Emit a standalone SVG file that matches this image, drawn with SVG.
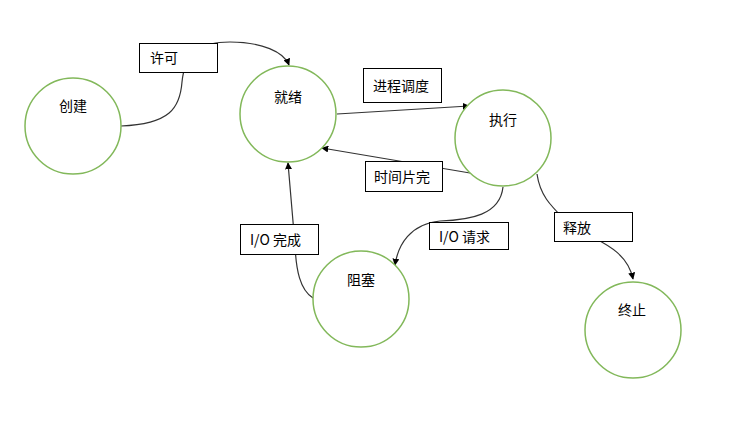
<svg xmlns="http://www.w3.org/2000/svg" width="735" height="424" viewBox="0 0 735 424">
<defs>
<marker id="arr" viewBox="0 0 10 10" refX="9" refY="5" markerWidth="7" markerHeight="7" orient="auto" markerUnits="userSpaceOnUse">
<path d="M0,0 L10,5 L0,10 z" fill="#000"/>
</marker>
<style>
.state{fill:#fff;stroke:#82b85a;stroke-width:1.5}
.lbl{fill:#fff;stroke:#000;stroke-width:1}
.edge{fill:none;stroke:#333;stroke-width:1.2}
text{font-family:"Noto Sans CJK SC","Liberation Sans",sans-serif;font-size:14px;fill:#000}
</style>
</defs>
<rect width="735" height="424" fill="#fff"/>
<g id="connectors">
<path class="edge" d="M121,126 C170,124 180,108 182,82 C185,52 200,42 230,42 C262,42 284,52 289,65" marker-end="url(#arr)"/>
<path class="edge" d="M337,114 L469,106" marker-end="url(#arr)"/>
<path class="edge" d="M470,173 L322,148" marker-end="url(#arr)"/>
<path class="edge" d="M313,298 C300,290 296,270 295,245 L288,163" marker-end="url(#arr)"/>
<path class="edge" d="M503,187 C500,215 470,220 440,221 C410,224 398,245 395,265" marker-end="url(#arr)"/>
<path class="edge" d="M537,174 C540,195 550,205 565,220 C590,240 626,245 633,279" marker-end="url(#arr)"/>
</g>
<g id="n-create"><circle class="state" cx="73" cy="126" r="48"/><text x="73" y="111" text-anchor="middle">创建</text></g>
<g id="n-ready"><circle class="state" cx="288" cy="114" r="48"/><text x="288" y="102" text-anchor="middle">就绪</text></g>
<g id="n-run"><circle class="state" cx="503" cy="138" r="48"/><text x="503" y="125" text-anchor="middle">执行</text></g>
<g id="n-block"><circle class="state" cx="361" cy="299" r="48"/><text x="361" y="285" text-anchor="middle">阻塞</text></g>
<g id="n-end"><circle class="state" cx="633" cy="330" r="48"/><text x="632" y="315" text-anchor="middle">终止</text></g>
<g id="l-allow"><rect class="lbl" x="139.5" y="43.5" width="78" height="29"/><text x="150" y="63">许可</text></g>
<g id="l-sched"><rect class="lbl" x="363.5" y="68.5" width="78" height="34"/><text x="373" y="91">进程调度</text></g>
<g id="l-slice"><rect class="lbl" x="365.5" y="161.5" width="77" height="30"/><text x="374" y="182">时间片完</text></g>
<g id="l-iodone"><rect class="lbl" x="240.5" y="224.5" width="78" height="30"/><text x="250" y="245">I/O 完成</text></g>
<g id="l-ioreq"><rect class="lbl" x="429.5" y="222.5" width="79" height="27"/><text x="439" y="242">I/O 请求</text></g>
<g id="l-release"><rect class="lbl" x="554.5" y="212.5" width="78" height="29"/><text x="563" y="233">释放</text></g>
</svg>
